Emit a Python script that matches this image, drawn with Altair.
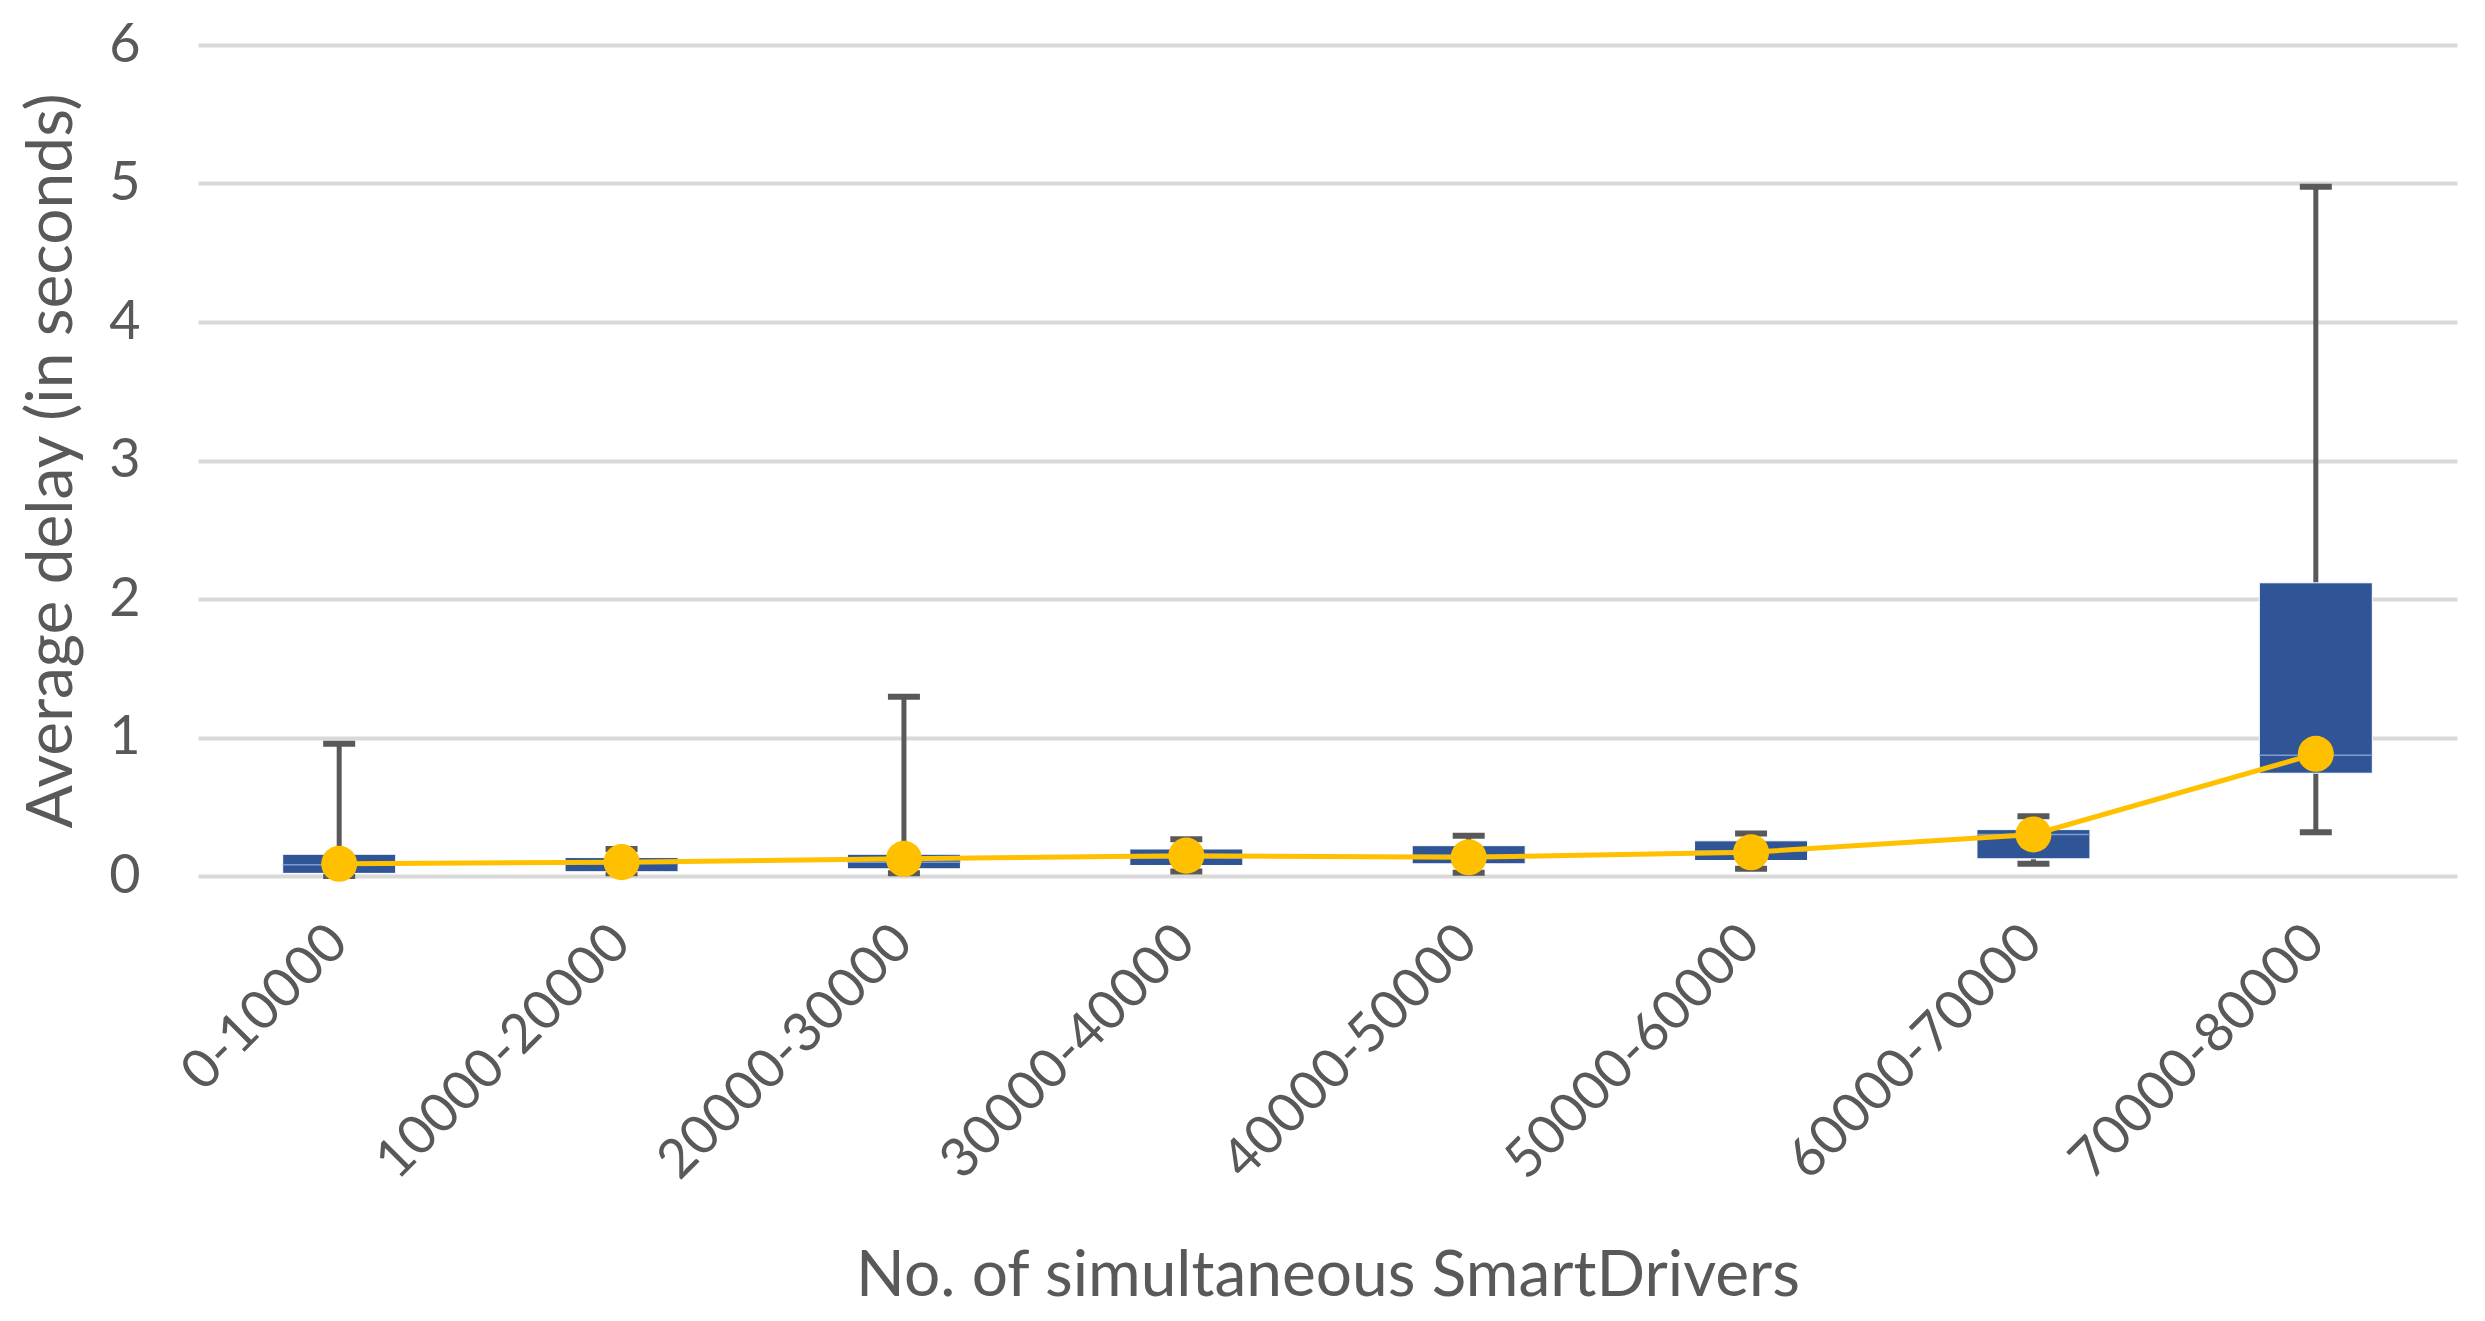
import altair as alt
import pandas as pd

categories = ["0-10000", "10000-20000", "20000-30000", "30000-40000",
              "40000-50000", "50000-60000", "60000-70000", "70000-80000"]
whisker_low = [0.00, 0.02, 0.02, 0.033, 0.024, 0.052, 0.088, 0.315]
q1 = [0.019, 0.031, 0.052, 0.076, 0.088, 0.112, 0.124, 0.742]
median = [0.081, 0.09, 0.10, 0.13, 0.15, 0.18, 0.30, 0.872]
q3 = [0.157, 0.133, 0.157, 0.195, 0.219, 0.254, 0.335, 2.117]
whisker_high = [0.955, 0.195, 1.294, 0.266, 0.29, 0.306, 0.432, 4.976]
mean = [0.088, 0.10, 0.124, 0.147, 0.135, 0.171, 0.30, 0.882]

df = pd.DataFrame({
    "cat": categories,
    "low": whisker_low,
    "q1": q1,
    "median": median,
    "q3": q3,
    "high": whisker_high,
    "mean": mean,
})

FONT = "Lato"
TXT = "#595959"
W, H = 2259, 831

xenc = alt.X(
    "cat:N", sort=categories,
    scale=alt.Scale(paddingInner=0, paddingOuter=0),
    axis=alt.Axis(
        title="No. of simultaneous SmartDrivers",
        labelAngle=-45, labelAlign="right", labelBaseline="middle",
        labelFontSize=54, labelColor=TXT, labelFont=FONT, labelPadding=58,
        labelLimit=0, labelOverlap=False,
        ticks=False, domain=False, grid=False,
        titleFontSize=64, titleFont=FONT, titleColor=TXT, titleFontWeight="normal",
        titleX=W / 2, titleY=400, titleAlign="center", titleBaseline="middle",
    ),
)
yscale = alt.Scale(domain=[0, 6])
yaxis = alt.Axis(
    title="Average delay (in seconds)", values=[0, 1, 2, 3, 4, 5, 6], format="d",
    labelFontSize=54, labelColor=TXT, labelFont=FONT, labelPadding=58,
    ticks=False, domain=False, grid=True, gridColor="#D9D9D9", gridWidth=4,
    titleFontSize=64, titleFont=FONT, titleColor=TXT, titleFontWeight="normal",
    titleX=-146, titleY=H / 2, titleAlign="center", titleBaseline="middle", titleAngle=-90,
)

base = alt.Chart(df)

whisker = base.mark_rule(color="#595959", strokeWidth=5).encode(
    x=xenc, y=alt.Y("low:Q", scale=yscale, axis=yaxis), y2="high:Q")
cap_hi = base.mark_tick(color="#595959", size=32, thickness=6, opacity=1).encode(
    x=xenc, y=alt.Y("high:Q", scale=yscale))
cap_lo = base.mark_tick(color="#595959", size=32, thickness=6, opacity=1).encode(
    x=xenc, y=alt.Y("low:Q", scale=yscale))
box = base.mark_bar(color="#2F5597", size=113, stroke="#FFFFFF", strokeWidth=1).encode(
    x=xenc, y=alt.Y("q1:Q", scale=yscale), y2="q3:Q")
med = base.mark_tick(color="#7F9BD0", size=113, thickness=1.5, opacity=1).encode(
    x=xenc, y=alt.Y("median:Q", scale=yscale))
line = base.mark_line(color="#FFC000", strokeWidth=5).encode(
    x=xenc, y=alt.Y("mean:Q", scale=yscale))
pts = base.mark_circle(color="#FFC000", size=1300, opacity=1).encode(
    x=xenc, y=alt.Y("mean:Q", scale=yscale))

chart = alt.layer(whisker, cap_hi, cap_lo, box, med, line, pts).properties(
    width=W, height=H,
    autosize=alt.AutoSizeParams(type="none"),
    padding={"left": 190, "top": 37, "right": 20, "bottom": 437},
).configure(background="white").configure_view(stroke=None)

chart.save("out.html", embed_options={"renderer": "svg", "actions": False})
